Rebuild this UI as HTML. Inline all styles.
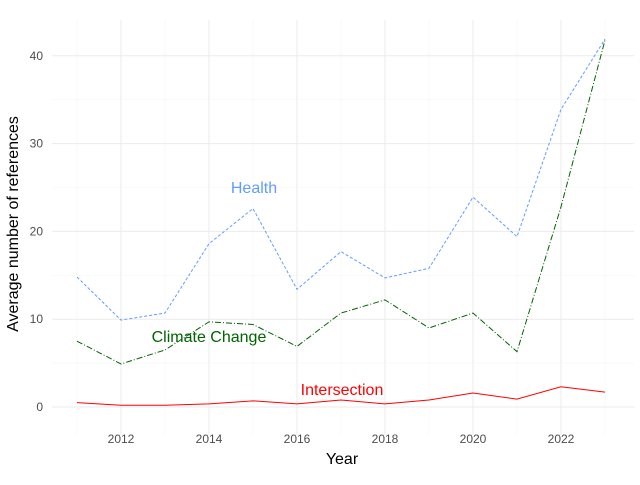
<!DOCTYPE html>
<html><head><meta charset="utf-8"><style>body{margin:0;background:#fff}svg{font-family:"Liberation Sans",sans-serif}</style></head>
<body>
<svg id="chart" width="640" height="480">
<g id="grid"></g>
<g id="marks"></g>
<g id="axes"></g>
<text x="342" y="464" font-size="16" text-anchor="middle" fill="#000">Year</text>
<text transform="translate(18,224) rotate(-90)" font-size="16" text-anchor="middle" fill="#000">Average number of references</text>
<text x="254" y="193" font-size="16" text-anchor="middle" fill="#619cff">Health</text>
<text x="209" y="342" font-size="16" text-anchor="middle" fill="#006400">Climate Change</text>
<text x="342" y="395" font-size="16" text-anchor="middle" fill="#ff0000">Intersection</text>
</svg>
<script>
const years=[2011,2012,2013,2014,2015,2016,2017,2018,2019,2020,2021,2022,2023];
const health=[14.8,9.9,10.7,18.6,22.6,13.4,17.7,14.7,15.8,23.9,19.4,33.9,41.9];
const climate=[7.5,4.9,6.5,9.7,9.4,6.9,10.7,12.2,9.0,10.7,6.3,22.8,41.8];
const intersection=[0.5,0.2,0.2,0.35,0.7,0.35,0.8,0.35,0.8,1.6,0.9,2.3,1.7];
const xTicks=[2012,2014,2016,2018,2020,2022];
const yTicks=[0,10,20,30,40];
const NS="http://www.w3.org/2000/svg";
const x=v=>121+(v-2012)*44;
const y=v=>407-v*8.78;
const grid=document.getElementById('grid'),marks=document.getElementById('marks'),axes=document.getElementById('axes');
function mk(tag,attrs,parent){const e=document.createElementNS(NS,tag);for(const k in attrs)e.setAttribute(k,attrs[k]);parent.appendChild(e);return e;}
for(let yr=2011;yr<=2023;yr++){const major=xTicks.includes(yr);
const l=mk('line',{x1:x(yr),x2:x(yr),y1:20,y2:435,stroke:major?'#ebebeb':'#f5f5f5','stroke-width':major?1:0.6},grid);

}
for(let v=0;v<=40;v+=5){const major=yTicks.includes(v);
const l=mk('line',{x1:52,x2:634,y1:y(v),y2:y(v),stroke:major?'#ebebeb':'#f5f5f5','stroke-width':major?1:0.6},grid);

}
xTicks.forEach(t=>{const e=mk('text',{x:x(t),y:443,'font-size':12,'text-anchor':'middle',fill:'#4d4d4d'},axes);e.textContent=t;

});
yTicks.forEach(t=>{const e=mk('text',{x:43,y:y(t)+4,'font-size':12,'text-anchor':'end',fill:'#4d4d4d'},axes);e.textContent=t;

});
function line(vals,color,dash,name){const p=mk('polyline',{points:vals.map((v,i)=>x(years[i])+','+y(v)).join(' '),fill:'none',stroke:color,'stroke-width':1,'stroke-dasharray':dash},marks);

}
line(health,'#619cff','3,2','health-line');
line(climate,'#006400','6,2,1,2','climate-change-line');
line(intersection,'#ff0000','none','intersection-line');
</script>
</body></html>
